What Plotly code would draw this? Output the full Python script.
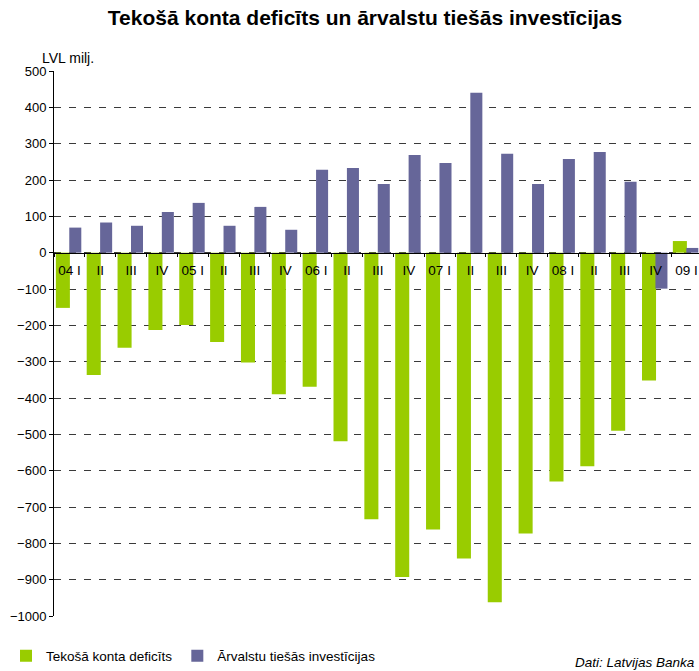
import plotly.graph_objects as go

quarters = ["04 I", "II", "III", "IV",
            "05 I", "II", "III", "IV",
            "06 I", "II", "III", "IV",
            "07 I", "II", "III", "IV",
            "08 I", "II", "III", "IV",
            "09 I"]
# unique category keys (labels repeat)
cat_keys = [f"q{i}" for i in range(len(quarters))]

current_account = [-152, -337, -262, -213, -199, -246, -302, -390, -369, -519,
                   -734, -893, -762, -842, -962, -773, -630, -588, -490, -352, 32]
fdi = [69, 83, 74, 112, 137, 74, 126, 63, 228, 233,
       189, 269, 247, 440, 272, 189, 258, 277, 195, -99, 13]

GREEN = "#99CC00"
BLUE = "#666699"
FONT = "Liberation Sans, Arial, sans-serif"

W, H = 699, 671
ML, MR, MT, MB = 54, 0, 71, 55
plot_w = W - ML - MR
cat_px = 30.85
x_end = -0.5 + plot_w / cat_px

fig = go.Figure()
fig.add_trace(go.Bar(
    x=cat_keys, y=current_account, name="Tekošā konta deficīts",
    marker=dict(color=GREEN, line=dict(width=0)),
    offset=-0.44, width=0.455,
))
fig.add_trace(go.Bar(
    x=cat_keys, y=fdi, name="Ārvalstu tiešās investīcijas",
    marker=dict(color=BLUE, line=dict(width=0)),
    offset=-0.005, width=0.39,
))

fig.update_layout(
    width=W, height=H,
    margin=dict(l=ML, r=MR, t=MT, b=MB, autoexpand=False),
    paper_bgcolor="white", plot_bgcolor="white",
    barmode="overlay",
    font=dict(family=FONT, color="black", size=13),
    title=dict(text="<b>Tekošā konta deficīts un ārvalstu tiešās investīcijas</b>",
               x=365 / W, xanchor="center", y=1 - 18 / H, yanchor="middle",
               yref="container", font=dict(size=21, family=FONT, color="black")),
    showlegend=True,
    legend=dict(orientation="h", xref="container", yref="container",
                x=6 / W, xanchor="left",
                y=1 - 656 / H, yanchor="middle",
                font=dict(size=13.5, family=FONT), itemwidth=30,
                bgcolor="rgba(0,0,0,0)", traceorder="normal"),
    xaxis=dict(
        type="category", range=[-0.5, x_end], automargin=False,
        tickmode="array", tickvals=cat_keys, ticktext=quarters,
        anchor="free", position=1000 / 1500,
        showline=True, linecolor="black", linewidth=1,
        ticks="outside", tickson="boundaries", ticklen=3, tickcolor="black",
        ticklabelstandoff=5,
        showgrid=False, tickangle=0,
        tickfont=dict(size=13.5, family=FONT, color="black"),
    ),
    yaxis=dict(
        range=[-1000, 500], dtick=100, tick0=0, automargin=False,
        showline=True, linecolor="black", linewidth=1,
        ticks="outside", ticklen=4, tickcolor="black",
        showgrid=True, gridcolor="#3a3a3a", gridwidth=1, griddash="7px,8px",
        zeroline=False,
        tickfont=dict(size=13, family=FONT, color="black"),
    ),
    annotations=[
        dict(text="LVL milj.", xref="paper", yref="paper", x=0, y=1,
             xshift=-14, yshift=13, xanchor="left", yanchor="middle",
             showarrow=False, font=dict(size=14, family=FONT, color="black")),
        dict(text="<i>Dati: Latvijas Banka</i>", xref="paper", yref="paper",
             x=1, y=0, xshift=-2, yshift=-46, xanchor="right", yanchor="middle",
             showarrow=False, font=dict(size=13.5, family=FONT, color="black")),
    ],
)

fig.write_html("out.html",
               config={"displayModeBar": False},
               post_script="document.body.style.margin='0px';")
